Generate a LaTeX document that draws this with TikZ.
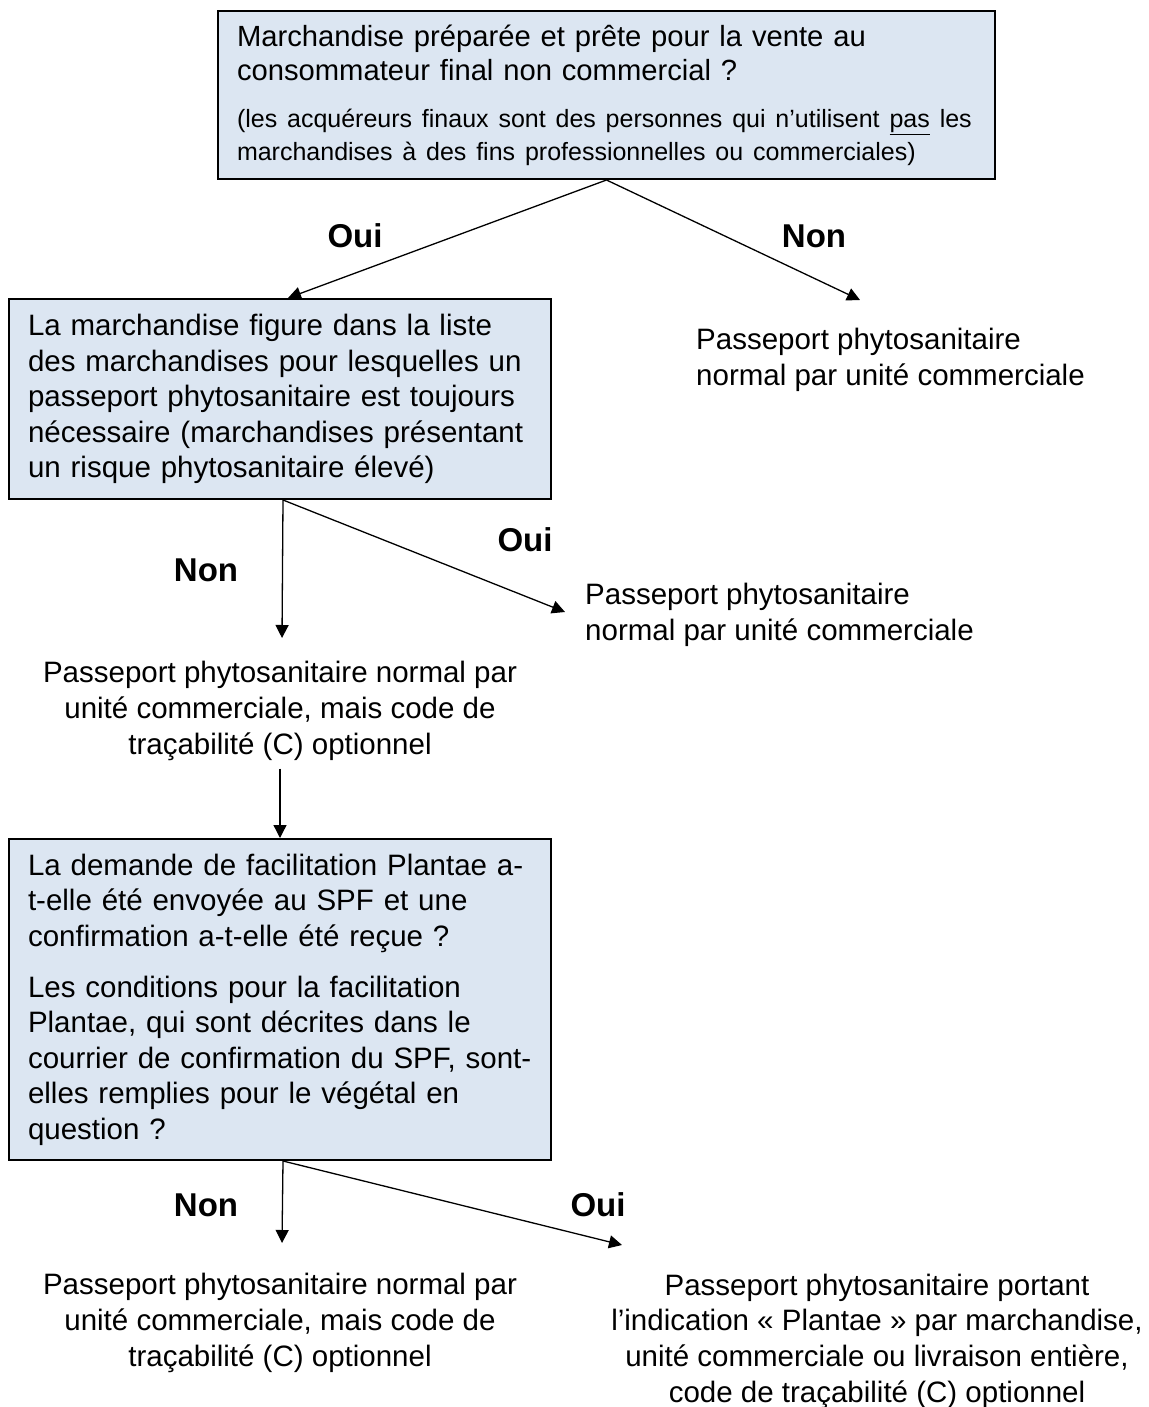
\documentclass[tikz,border=0pt]{standalone}
\usepackage{fontspec}
\setmainfont{Liberation Sans}
\usetikzlibrary{arrows.meta,calc}
\definecolor{boxblue}{HTML}{DCE6F2}
\tikzset{
  qbox/.style={draw=black, line width=2pt, fill=boxblue, anchor=north west,
    inner ysep=0pt, align=left, font=\fontsize{29.5}{35.5}\selectfont},
  answer/.style={inner sep=0pt, font=\fontsize{29.5}{35.7}\selectfont},
  yesno/.style={inner sep=0pt, font=\fontsize{33}{38}\selectfont\bfseries},
  conn/.style={line width=1.3pt, -{Triangle[length=13pt,width=13pt]}}
}
\begin{document}
\begin{tikzpicture}[x=1pt,y=-1pt]
\useasboundingbox (0,0) rectangle (1148,1407);

\node[qbox, minimum width=777, minimum height=168, inner xsep=19, text width=739] (box1) at (217,10)
  {\fontsize{29.2}{34}\selectfont \mbox{Marchandise préparée et prête pour la vente au}\\
   \mbox{consommateur final non commercial ?}\par
   \vspace{14pt}
   \fontsize{25}{33}\selectfont \mbox{(les acquéreurs finaux sont des personnes qui n’utilisent \underline{pas} les}\\
   \mbox{marchandises à des fins professionnelles ou commerciales)}\par};

\node[qbox, minimum width=542, minimum height=200, inner xsep=19, text width=504] (box2) at (8,298)
  {\mbox{La marchandise figure dans la liste}\\
   \mbox{des marchandises pour lesquelles un}\\
   \mbox{passeport phytosanitaire est toujours}\\
   \mbox{nécessaire (marchandises présentant}\\
   \mbox{un risque phytosanitaire élevé)}};

\node[answer, align=left, anchor=north west] (t1) at (696,328)
  {Passeport phytosanitaire\\normal par unité commerciale};

\node[answer, align=left, anchor=north west] (t2) at (585,583)
  {Passeport phytosanitaire\\normal par unité commerciale};

\node[answer, align=center] (t3) at (280,711)
  {Passeport phytosanitaire normal par\\unité commerciale, mais code de\\traçabilité (C) optionnel};

\node[qbox, minimum width=542, minimum height=321, inner xsep=19, text width=504] (box3) at (8,838)
  {\mbox{La demande de facilitation Plantae a-}\\
   \mbox{t-elle été envoyée au SPF et une}\\
   \mbox{confirmation a-t-elle été reçue ?}\par
   \vspace{15.5pt}
   \mbox{Les conditions pour la facilitation}\\
   \mbox{Plantae, qui sont décrites dans le}\\
   \mbox{courrier de confirmation du SPF, sont-}\\
   \mbox{elles remplies pour le végétal en}\\
   \mbox{question ?}\par};

\node[answer, align=center] (t4) at (280,1323)
  {Passeport phytosanitaire normal par\\unité commerciale, mais code de\\traçabilité (C) optionnel};

\node[answer, align=center] (t5) at (877,1341)
  {Passeport phytosanitaire portant\\l’indication « Plantae » par marchandise,\\unité commerciale ou livraison entière,\\code de traçabilité (C) optionnel};

\node[yesno] (oui1) at (355,236) {Oui};
\node[yesno] (non1) at (814,236) {Non};
\node[yesno] (non2) at (206,570) {Non};
\node[yesno] (oui2) at (525,540) {Oui};
\node[yesno] (non3) at (206,1205) {Non};
\node[yesno] (oui3) at (598,1205) {Oui};

\coordinate (e1) at ($(box2.north)+(8,0)$);
\coordinate (e2) at (860,300);
\coordinate (s2) at ($(box2.south)+(3,0)$);
\coordinate (e3) at (282,638);
\coordinate (e4) at (565,612);
\coordinate (s3) at ($(box3.south)+(3,0)$);
\coordinate (e6) at (282,1243);
\coordinate (e7) at (622,1245);

\draw[conn] (box1.south) -- (e1);
\draw[conn] (box1.south) -- (e2);
\draw[conn] (s2) -- (e3);
\draw[conn] (s2) -- (e4);
\draw[conn] (t3.south) ++(0,8) coordinate (s5) -- (box3.north);
\draw[conn] (s3) -- (e6);
\draw[conn] (s3) -- (e7);
\end{tikzpicture}
\end{document}
